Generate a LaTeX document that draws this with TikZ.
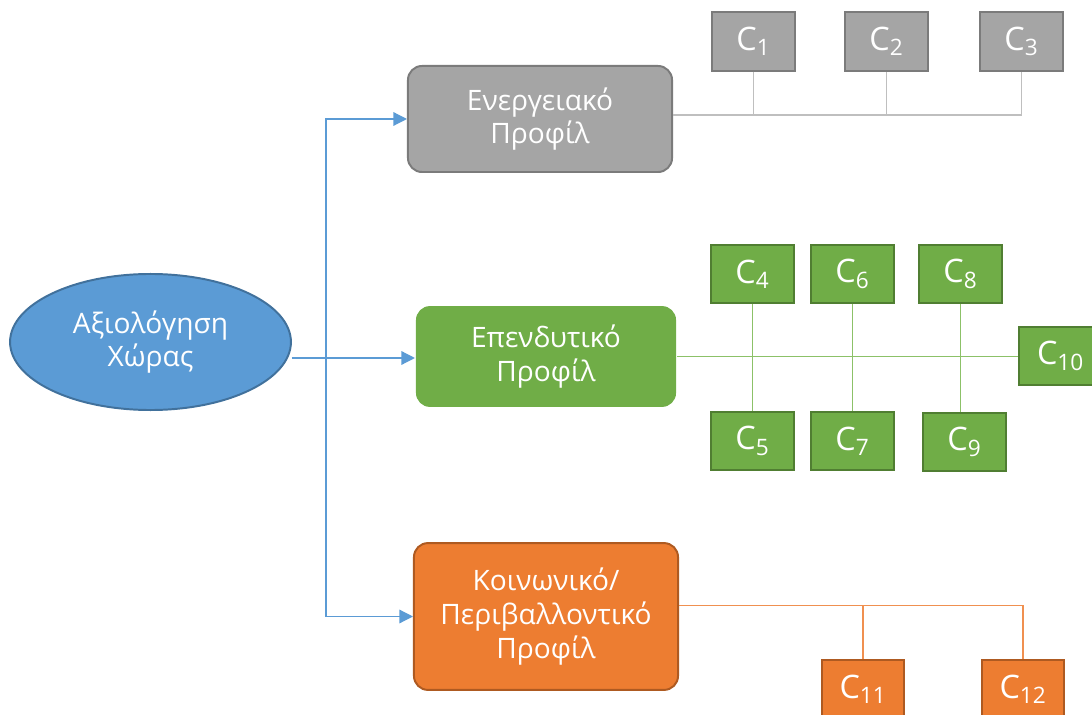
\documentclass[tikz,border=0pt]{standalone}
\usepackage{fontspec}
\setmainfont{Open Sans}
\usepackage{xcolor}
\definecolor{cBlue}{HTML}{5B9BD5}
\definecolor{cBlueDark}{HTML}{41719C}
\definecolor{cGray}{HTML}{A5A5A5}
\definecolor{cGrayDark}{HTML}{7B7B7B}
\definecolor{cGrayLine}{HTML}{BFBFBF}
\definecolor{cGreen}{HTML}{70AD47}
\definecolor{cGreenDark}{HTML}{507E32}
\definecolor{cGreenLine}{HTML}{8CC168}
\definecolor{cOrange}{HTML}{ED7D31}
\definecolor{cOrangeDark}{HTML}{AE5A21}
\usetikzlibrary{positioning,arrows.meta,shapes.geometric}
\tikzset{
  node-root/.style={ellipse,draw=cBlueDark,line width=1.4pt,fill=cBlue,
    text=white,minimum width=7.02cm,minimum height=3.4cm,align=center,
    font=\fontsize{20}{24}\selectfont},
  node-profile/.style={rectangle,rounded corners=3.5mm,line width=1.4pt,
    minimum width=6.6cm,minimum height=2.65cm,align=center,text=white,
    font=\fontsize{20}{24}\selectfont},
  node-crit/.style={rectangle,line width=1.4pt,minimum width=2.07cm,
    minimum height=1.47cm,text=white,inner sep=0pt,
    font=\fontsize{23}{26}\selectfont},
  node-gray/.style={draw=cGrayDark,fill=cGray},
  node-green/.style={draw=cGreenDark,fill=cGreen},
  node-orange/.style={draw=cOrangeDark,fill=cOrange},
  arrow/.style={-{Triangle[length=3.4mm,width=3.4mm]},line width=0.9pt,draw=cBlue},
  link-blue/.style={line width=0.9pt,draw=cBlue},
  link-gray/.style={line width=0.9pt,draw=cGrayLine},
  link-green/.style={line width=0.9pt,draw=cGreenLine},
  link-orange/.style={line width=0.9pt,draw=cOrange!85!white},
}

\begin{document}
\begin{tikzpicture}[x=0.025cm,y=-0.025cm]
  \useasboundingbox (0,0) rectangle (1092,715);
  % root and the three profiles
  \node[node-root] (root) at (150.5,342) {Αξιολόγηση\\Χώρας};
  \node[node-profile,node-gray] (energy) at (540,119) {Ενεργειακό\\Προφίλ};
  \node[node-profile,node-green,draw=none,minimum width=6.5cm,minimum height=2.52cm]
    (invest) at (546,356.5) {Επενδυτικό\\Προφίλ};
  \node[node-profile,node-orange,minimum height=3.67cm] (social) at (546,616.5)
    {Κοινωνικό/\\Περιβαλλοντικό\\Προφίλ};
  \coordinate (hub) at (326,358);
  \draw[link-blue] (hub -| root.east) -- (hub);
  \draw[arrow] (hub) |- (energy.west);
  \draw[arrow] (hub) -- (hub -| invest.west);
  \draw[arrow] (hub) |- (social.west);
  % energy criteria
  \node[node-crit,node-gray] (c1) at (753.5,41.5) {C\textsubscript{1}};
  \node[node-crit,node-gray] (c2) at (886.5,41.5) {C\textsubscript{2}};
  \node[node-crit,node-gray] (c3) at (1021.5,41.5) {C\textsubscript{3}};
  \coordinate (energy-tap) at ([yshift=0.1cm]energy.east);
  \draw[link-gray] (energy-tap) -- (energy-tap -| c3.south) -- (c3.south);
  \draw[link-gray] (c1.south) -- (c1.south |- energy-tap);
  \draw[link-gray] (c2.south) -- (c2.south |- energy-tap);
  % investment criteria
  \node[node-crit,node-green] (c4) at (752.5,274) {C\textsubscript{4}};
  \node[node-crit,node-green] (c5) at (752.5,441) {C\textsubscript{5}};
  \node[node-crit,node-green] (c6) at (852.5,274) {C\textsubscript{6}};
  \node[node-crit,node-green] (c7) at (852.5,441) {C\textsubscript{7}};
  \node[node-crit,node-green] (c8) at (960.5,274) {C\textsubscript{8}};
  \node[node-crit,node-green] (c9) at (964.5,442) {C\textsubscript{9}};
  \node[node-crit,node-green] (c10) at (1060.5,356) {C\textsubscript{10}};
  \draw[link-green] (invest.east) -- (invest.east -| c10.west);
  \draw[link-green] (c4.south) -- (c5.north);
  \draw[link-green] (c6.south) -- (c7.north);
  \draw[link-green] (c8.south) -- (c8.south |- c9.north);
  % social criteria
  \node[node-crit,node-orange] (c11) at (863,689.5) {C\textsubscript{11}};
  \node[node-crit,node-orange] (c12) at (1023,689.5) {C\textsubscript{12}};
  \coordinate (social-tap) at ([yshift=0.275cm]social.east);
  \draw[link-orange] (social-tap) -- (social-tap -| c12.north) -- (c12.north);
  \draw[link-orange] (c11.north) -- (c11.north |- social-tap);
\end{tikzpicture}
\end{document}
